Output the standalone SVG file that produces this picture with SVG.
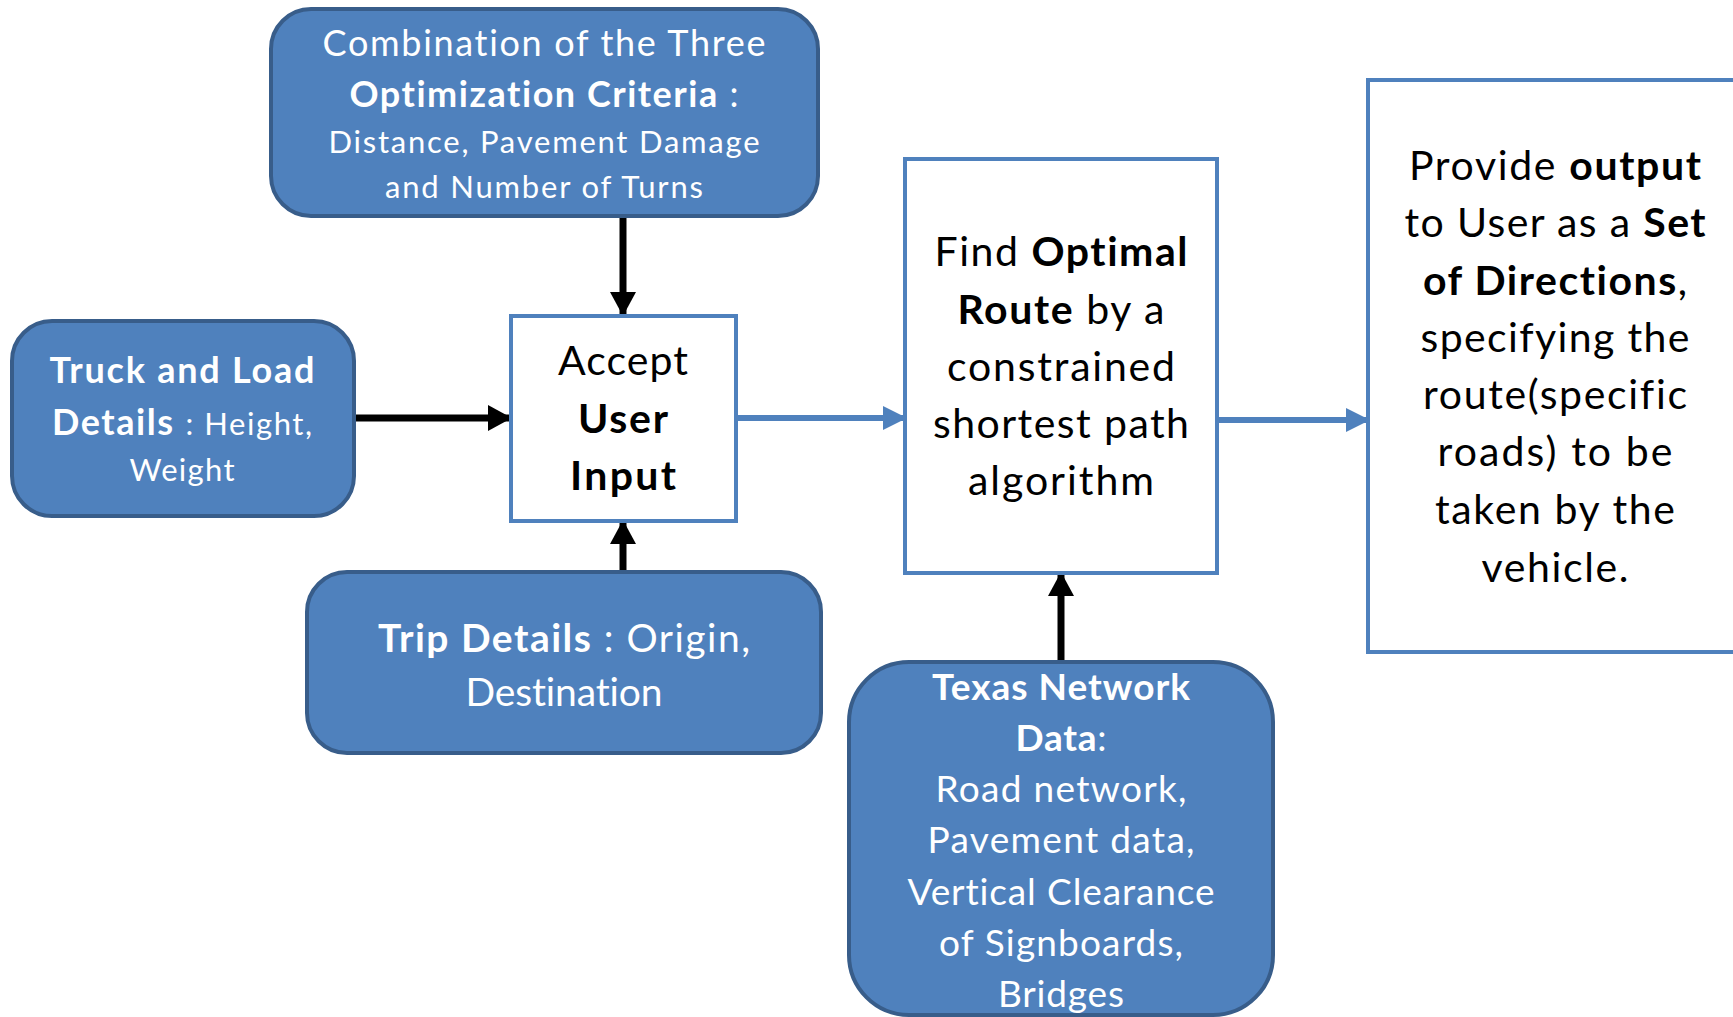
<svg xmlns="http://www.w3.org/2000/svg" width="1733" height="1017" viewBox="0 0 1733 1017">
<defs>
<style>
.rb{fill:#4F81BD;stroke:#385D8A;stroke-width:4}
.wb{fill:#FFFFFF;stroke:#4F81BD;stroke-width:4}
text{font-family:Lato,"Liberation Sans",sans-serif;text-anchor:middle;font-variant-ligatures:none}
.w{fill:#FFFFFF}
.k{fill:#000000}
.b{font-weight:bold}
.ck{stroke:#000;stroke-width:7;fill:none}
.cb{stroke:#4F81BD;stroke-width:6;fill:none}
</style>
<marker id="ak" markerUnits="userSpaceOnUse" markerWidth="24" markerHeight="26" refX="22" refY="13" orient="auto">
<path d="M0,0 L24,13 L0,26 Z" fill="#000"/>
</marker>
<marker id="ab" markerUnits="userSpaceOnUse" markerWidth="24" markerHeight="24" refX="22" refY="12" orient="auto">
<path d="M0,0 L24,12 L0,24 Z" fill="#4F81BD"/>
</marker>
</defs>
<rect width="1733" height="1017" fill="#FFFFFF"/>
<g id="connectors">
<line class="ck" x1="623" y1="217" x2="623" y2="314" marker-end="url(#ak)"/>
<line class="ck" x1="354" y1="418" x2="510" y2="418" marker-end="url(#ak)"/>
<line class="ck" x1="623" y1="571" x2="623" y2="522" marker-end="url(#ak)"/>
<line class="cb" x1="737" y1="418" x2="905" y2="418" marker-end="url(#ab)"/>
<line class="cb" x1="1218" y1="420" x2="1368" y2="420" marker-end="url(#ab)"/>
<line class="ck" x1="1061" y1="661" x2="1061" y2="574" marker-end="url(#ak)"/>
</g>
<g id="criteria">
<rect class="rb" x="271" y="9" width="547" height="207" rx="40"/>
<text class="w" x="544" y="56" font-size="36" textLength="443" lengthAdjust="spacing">Combination of the Three</text>
<text class="w" x="544" y="107" font-size="36" textLength="389" lengthAdjust="spacing"><tspan class="b">Optimization Criteria</tspan> :</text>
<text class="w" x="544" y="153" font-size="31" textLength="431" lengthAdjust="spacing">Distance, Pavement Damage</text>
<text class="w" x="544" y="198" font-size="31" textLength="318" lengthAdjust="spacing">and Number of Turns</text>
</g>
<g id="truck">
<rect class="rb" x="12" y="321" width="342" height="195" rx="40"/>
<text class="w b" x="182" y="383" font-size="36" textLength="265" lengthAdjust="spacing">Truck and Load</text>
<text class="w" x="182" y="435" font-size="36" textLength="260" lengthAdjust="spacing"><tspan class="b">Details</tspan> <tspan font-size="31">: Height,</tspan></text>
<text class="w" x="182" y="481" font-size="31" textLength="105" lengthAdjust="spacing">Weight</text>
</g>
<g id="accept">
<rect class="wb" x="511" y="316" width="225" height="205"/>
<text class="k" x="623" y="375" font-size="41" textLength="130" lengthAdjust="spacing">Accept</text>
<text class="k b" x="623" y="433" font-size="41" textLength="90" lengthAdjust="spacing">User</text>
<text class="k b" x="623" y="490" font-size="41" textLength="106" lengthAdjust="spacing">Input</text>
</g>
<g id="trip">
<rect class="rb" x="307" y="572" width="514" height="181" rx="40"/>
<text class="w" x="564" y="652" font-size="39" textLength="372" lengthAdjust="spacing"><tspan class="b">Trip Details</tspan> : Origin,</text>
<text class="w" x="564" y="706" font-size="39" textLength="197" lengthAdjust="spacing">Destination</text>
</g>
<g id="find">
<rect class="wb" x="905" y="159" width="312" height="414"/>
<text class="k" x="1061" y="266" font-size="41" textLength="253" lengthAdjust="spacing">Find <tspan class="b">Optimal</tspan></text>
<text class="k" x="1061" y="324" font-size="41" textLength="207" lengthAdjust="spacing"><tspan class="b">Route</tspan> by a</text>
<text class="k" x="1061" y="381" font-size="41" textLength="228" lengthAdjust="spacing">constrained</text>
<text class="k" x="1061" y="438" font-size="41" textLength="256" lengthAdjust="spacing">shortest path</text>
<text class="k" x="1061" y="495" font-size="41" textLength="186" lengthAdjust="spacing">algorithm</text>
</g>
<g id="output">
<rect class="wb" x="1368" y="80" width="400" height="572"/>
<text class="k" x="1555" y="180" font-size="41" textLength="292" lengthAdjust="spacing">Provide <tspan class="b">output</tspan></text>
<text class="k" x="1555" y="237" font-size="41" textLength="301" lengthAdjust="spacing">to User as a <tspan class="b">Set</tspan></text>
<text class="k" x="1555" y="295" font-size="41" textLength="264" lengthAdjust="spacing"><tspan class="b">of Directions</tspan>,</text>
<text class="k" x="1555" y="352" font-size="41" textLength="269" lengthAdjust="spacing">specifying the</text>
<text class="k" x="1555" y="409" font-size="41" textLength="264" lengthAdjust="spacing">route(specific</text>
<text class="k" x="1555" y="466" font-size="41" textLength="235" lengthAdjust="spacing">roads) to be</text>
<text class="k" x="1555" y="524" font-size="41" textLength="240" lengthAdjust="spacing">taken by the</text>
<text class="k" x="1555" y="582" font-size="41" textLength="147" lengthAdjust="spacing">vehicle.</text>
</g>
<g id="texas">
<rect class="rb" x="849" y="662" width="424" height="353" rx="60"/>
<text class="w b" x="1061" y="700" font-size="37" textLength="258" lengthAdjust="spacing">Texas Network</text>
<text class="w" x="1061" y="751" font-size="37" textLength="91" lengthAdjust="spacing"><tspan class="b">Data</tspan>:</text>
<text class="w" x="1061" y="802" font-size="37" textLength="251" lengthAdjust="spacing">Road network,</text>
<text class="w" x="1061" y="853" font-size="37" textLength="267" lengthAdjust="spacing">Pavement data,</text>
<text class="w" x="1061" y="905" font-size="37" textLength="307" lengthAdjust="spacing">Vertical Clearance</text>
<text class="w" x="1061" y="956" font-size="37" textLength="244" lengthAdjust="spacing">of Signboards,</text>
<text class="w" x="1061" y="1007" font-size="37" textLength="126" lengthAdjust="spacing">Bridges</text>
</g>
</svg>
